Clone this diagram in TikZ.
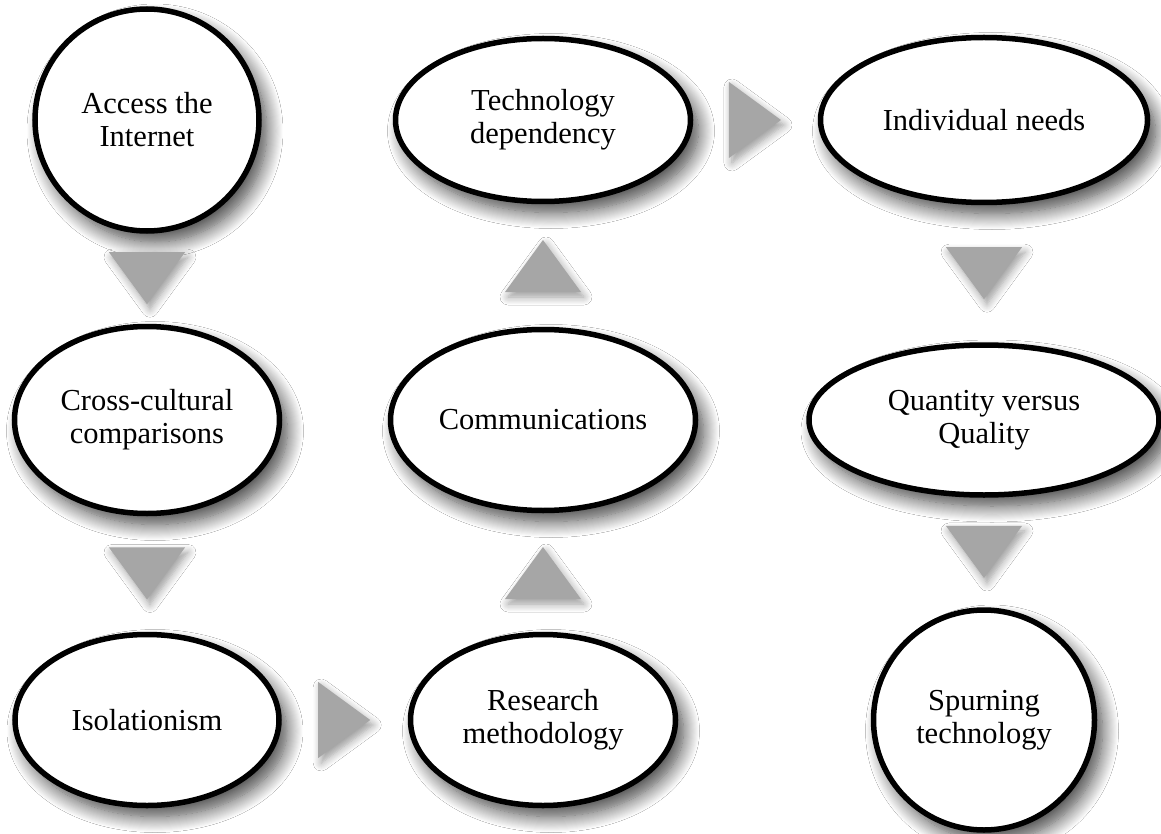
\documentclass[tikz,border=0pt]{standalone}
\usepackage{fontspec}
\setmainfont{Liberation Serif}
\usepackage{tikz}
\usetikzlibrary{shapes.geometric, positioning, shadows.blur}

\definecolor{flowgray}{HTML}{A6A6A6}
\tikzstyle{topic} = [ellipse, draw=black, line width=5.5pt, fill=white, text centered, align=center, inner sep=0pt, blur shadow={shadow xshift=8pt, shadow yshift=-11pt, shadow blur radius=16pt, shadow blur steps=16, shadow opacity=75}]
\tikzstyle{flow} = [isosceles triangle, isosceles triangle stretches, minimum width=76pt, minimum height=52pt, inner sep=0pt, fill=flowgray, sloped, allow upside down, anchor=apex, xshift=26pt, blur shadow={shadow xshift=3pt, shadow yshift=-5pt, shadow blur radius=8pt, shadow blur steps=8, shadow opacity=40}]

\begin{document}
\begin{tikzpicture}[x=1pt, y=1pt, node distance=300pt, every node/.style={font=\fontsize{30.5}{33}\selectfont}]

\path[use as bounding box, fill=white] (0,0) rectangle (1161,-834);

\node (access) [topic, minimum width=224pt, minimum height=222pt] at (147,-120) {Access the\\Internet};
\node (cross) [topic, minimum width=265pt, minimum height=187pt, below of=access] {Cross-cultural\\comparisons};
\node (isolation) [topic, minimum width=264pt, minimum height=171pt, below of=cross] {Isolationism};
\node (research) [topic, minimum width=265pt, minimum height=171pt, right of=isolation, xshift=96pt] {Research\\methodology};
\node (comm) [topic, minimum width=305pt, minimum height=181pt, above of=research] {Communications};
\node (techdep) [topic, minimum width=295pt, minimum height=163pt, above of=comm] {Technology\\dependency};
\node (needs) [topic, minimum width=327pt, minimum height=165pt, right of=techdep, xshift=141pt] {Individual needs};
\node (quantity) [topic, minimum width=350pt, minimum height=150pt, below of=needs] {Quantity versus\\Quality};
\node (spurning) [topic, minimum width=221pt, minimum height=220pt, below of=quantity] {Spurning\\technology};

\path (access) -- node[flow] {} (cross);
\path (cross) -- node[flow] {} (isolation);
\path (isolation) -- node[flow] {} (research);
\path (research) -- node[flow] {} (comm);
\path (comm) -- node[flow] {} (techdep);
\path (techdep) -- node[flow] {} (needs);
\path (needs) -- node[flow] {} (quantity);
\path (quantity) -- node[flow] {} (spurning);

\end{tikzpicture}
\end{document}
